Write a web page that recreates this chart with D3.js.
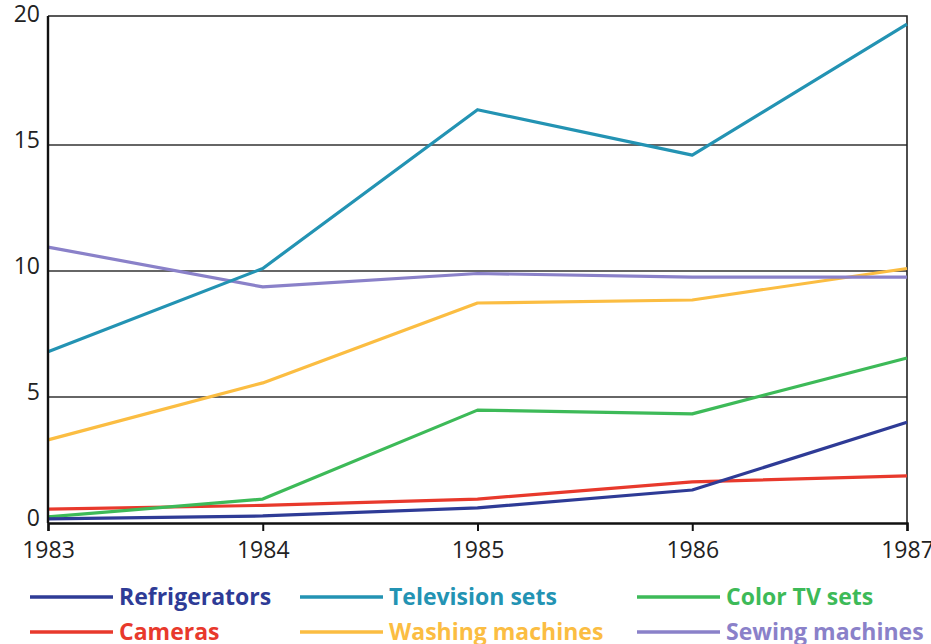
<!DOCTYPE html>
<html>
<head>
<meta charset="utf-8">
<script src="https://cdn.jsdelivr.net/npm/d3@7"></script>
<style>
  body { margin: 0; background: #fff; }
  svg { display: block; }
  .tick text { font-family: "Liberation Sans Narrow", "Open Sans", sans-serif; font-size: 23px; fill: #222; }
</style>
</head>
<body>
<svg width="931" height="644"></svg>
<script>
// data (millions of units)
var years = [1983, 1984, 1985, 1986, 1987];
var yTicks = [0, 5, 10, 15, 20];
var refrigerators = [0.16, 0.28, 0.6, 1.31, 4.0];
var televisionSets = [6.8, 10.1, 16.4, 14.6, 19.8];
var colorTvSets = [0.24, 0.95, 4.48, 4.33, 6.55];
var cameras = [0.55, 0.7, 0.95, 1.63, 1.87];
var washingMachines = [3.3, 5.56, 8.73, 8.85, 10.1];
var sewingMachines = [10.95, 9.37, 9.9, 9.76, 9.76];
var seriesNames = ["Refrigerators", "Television sets", "Color TV sets", "Cameras", "Washing machines", "Sewing machines"];
var seriesColors = ["#2e3b96", "#2393b3", "#3dba58", "#e8392c", "#fbbd42", "#8a81c9"];

var series = [refrigerators, televisionSets, colorTvSets, cameras, washingMachines, sewingMachines]
  .map(function(vals, i) {
    return { name: seriesNames[i], color: seriesColors[i],
             values: vals.map(function(v, j) { return { year: years[j], value: v }; }) };
  });

var svg = d3.select("svg"),
    margin = {top: 19, right: 24, bottom: 121, left: 48},
    width = 931 - margin.left - margin.right,
    height = 644 - margin.top - margin.bottom,
    g = svg.append("g").attr("transform", "translate(" + margin.left + "," + margin.top + ")");

var x = d3.scaleLinear().domain([1983, 1987]).range([0, width]);
var y = d3.scaleLinear().domain([0, 20]).range([height, 0]);

// gridlines
g.selectAll(".grid")
  .data(yTicks.filter(function(t) { return t > 0 && t < 20; }))
  .enter().append("line")
  .attr("x1", 0).attr("x2", width)
  .attr("y1", function(d) { return y(d); })
  .attr("y2", function(d) { return y(d); })
  .attr("stroke", "#333").attr("stroke-width", 1.3);

// top and right frame
g.append("path")
  .attr("d", "M0," + (y(20) - 3) + "H" + width + "V" + height)
  .attr("fill", "none").attr("stroke", "#222").attr("stroke-width", 1.6);

// lines
var line = d3.line()
  .x(function(d) { return x(d.year); })
  .y(function(d) { return y(d.value); });

var drawOrder = [3, 4, 5, 2, 1, 0];
g.selectAll(".series")
  .data(drawOrder.map(function(i) { return series[i]; }))
  .enter().append("path")
  .attr("fill", "none")
  .attr("stroke", function(d) { return d.color; })
  .attr("stroke-width", 3.2)
  .attr("stroke-linejoin", "round")
  .attr("d", function(d) { return line(d.values); });

// axes
var xAxis = g.append("g")
  .attr("transform", "translate(0," + height + ")")
  .call(d3.axisBottom(x).tickValues(years).tickFormat(d3.format("d")).tickSize(8).tickPadding(11));
xAxis.select(".domain").attr("stroke", "#111").attr("stroke-width", 2.4);
xAxis.selectAll(".tick line").attr("stroke", "#111").attr("stroke-width", 2);

var yAxis = g.append("g")
  .call(d3.axisLeft(y).tickValues(yTicks).tickSize(0).tickPadding(8));
yAxis.select(".domain").attr("stroke", "#111").attr("stroke-width", 2.4)
  .attr("d", "M0," + height + "V" + (y(20) - 3));
yAxis.selectAll(".tick text").attr("dy", "0.1em");

// legend
var legendX = [30, 300, 637];
var legendY = [597, 632];
var legend = svg.selectAll(".legend")
  .data(series)
  .enter().append("g")
  .attr("transform", function(d, i) {
    return "translate(" + legendX[i % 3] + "," + legendY[Math.floor(i / 3)] + ")";
  });
legend.append("line")
  .attr("x1", 0).attr("x2", 83)
  .attr("stroke", function(d) { return d.color; })
  .attr("stroke-width", 3.5);
legend.append("text")
  .attr("x", 89).attr("dy", "0.35em")
  .style("font-family", "'Liberation Sans Narrow', 'Open Sans', sans-serif")
  .style("font-size", "23px")
  .style("font-weight", "bold")
  .style("fill", function(d) { return d.color; })
  .text(function(d) { return d.name; });
</script>
</body>
</html>
